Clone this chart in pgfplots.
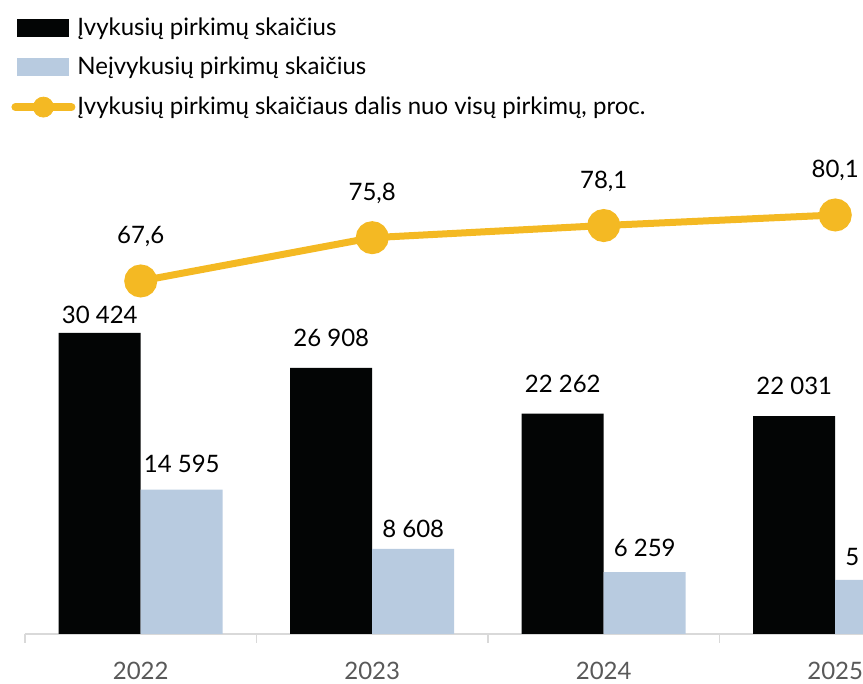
\documentclass[border=0pt]{standalone}
\usepackage{fontspec}
\setmainfont{Lato}
\usepackage{pgfplots}
\usepackage{pgfplotstable}
\pgfplotsset{compat=1.18}
\definecolor{gold}{RGB}{244,185,35}
\definecolor{lblue}{RGB}{184,203,224}
\definecolor{barblack}{RGB}{3,5,5}
\definecolor{axgray}{RGB}{217,217,217}
\definecolor{tgray}{RGB}{89,89,89}
\pgfplotstableread{
x y off
0 30424 1
1 26908 7
2 22262 7
3 22031 7
}\blackdata
\pgfplotstableread{
x y off
0 14595 5
1 8608 2
2 6259 4
3 5473 3.5
}\bluedata
\pgfplotstableread{
x y
0 67.6
1 75.8
2 78.1
3 80.1
}\sharedata
\pgfplotsset{
  barlab/.style={
    nodes near coords={\pgfmathprintnumber[assume math mode=true, 1000 sep={\ }]{\pgfplotspointmeta}},
    visualization depends on={\thisrow{off} \as \labeloff},
    every node near coord/.append style={yshift=\labeloff pt},
  },
}
\begin{document}
\begin{tikzpicture}
\useasboundingbox (-12.5pt,-25pt) rectangle (419pt,317pt);
\clip (-12.5pt,-25pt) rectangle (419pt,317pt);
\begin{axis}[
  at={(0,0)}, anchor=south west,
  scale only axis, width=463pt, height=242pt,
  ybar, bar width=41pt,
  xmin=-0.5, xmax=3.5, ymin=0, ymax=48918,
  axis y line=none, axis x line*=bottom,
  axis line style={axgray, line width=0.8pt},
  xtick={-0.5,0.5,1.5,2.5,3.5}, xticklabels={},
  xtick align=outside, major tick length=4.5pt,
  tick style={axgray, line width=0.8pt},
  extra x ticks={0,1,2,3}, extra x tick labels={2022,2023,2024,2025},
  extra x tick style={major tick length=0pt},
  xticklabel style={font=\fontsize{12}{14}\selectfont, text=tgray, anchor=base, yshift=-23pt},
  legend cell align=left,
  legend style={at={(-0.0151,1.283)}, anchor=north west, draw=none, fill=none,
    font=\fontsize{12}{14}\selectfont, row sep=5.5pt, inner sep=0pt, nodes={inner xsep=1pt}},
  every node near coord/.append style={font=\fontsize{12}{14}\selectfont, text=black},
]
\addplot[ybar, bar shift=-20.5pt, fill=barblack, draw=none, barlab,
  legend image code/.code={\fill[barblack] (0pt,-4.5pt) rectangle (26pt,4.5pt);}]
  table[x=x, y=y] {\blackdata};
\addlegendentry{Įvykusių pirkimų skaičius}
\addplot[ybar, bar shift=20.5pt, fill=lblue, draw=none, barlab,
  legend image code/.code={\fill[lblue] (0pt,-4.5pt) rectangle (26pt,4.5pt);}]
  table[x=x, y=y] {\bluedata};
\addlegendentry{Neįvykusių pirkimų skaičius}
\addlegendimage{legend image code/.code={\draw[gold, line width=4pt, line cap=round] (-1pt,0pt)--(27pt,0pt); \fill[gold] (13pt,0pt) circle (5pt);}}
\addlegendentry{Įvykusių pirkimų skaičiaus dalis nuo visų pirkimų, proc.}
\end{axis}
\begin{axis}[
  at={(0,0)}, anchor=south west,
  scale only axis, width=463pt, height=242pt,
  xmin=-0.5, xmax=3.5, ymin=0.744, ymax=92.41,
  hide axis,
]
\addplot[gold, line width=3.5pt, mark=*, mark size=6.5pt, mark options={draw=none, fill=gold},
  nodes near coords={\pgfmathprintnumber[assume math mode=true, fixed, fixed zerofill, precision=1, use comma]{\pgfplotspointmeta}},
  every node near coord/.append style={font=\fontsize{12}{14}\selectfont, text=black, yshift=12pt}]
  table[x=x, y=y] {\sharedata};
\end{axis}
\end{tikzpicture}
\end{document}
